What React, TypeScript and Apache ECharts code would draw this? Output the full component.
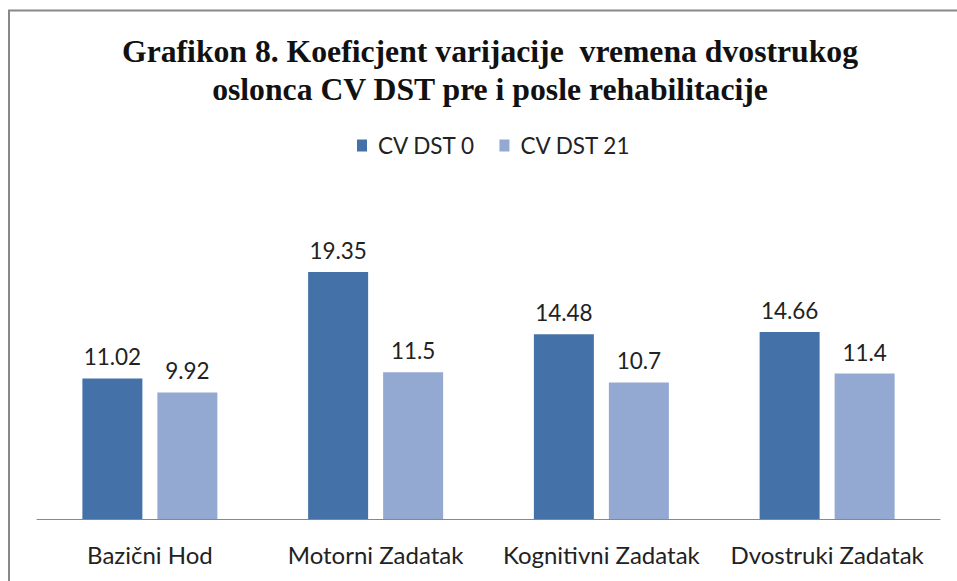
import React, { useEffect, useRef } from "react";
import * as echarts from "echarts";

const categories = ["Bazični Hod", "Motorni Zadatak", "Kognitivni Zadatak", "Dvostruki Zadatak"];
const seriesNames = ["CV DST 0", "CV DST 21"];
const cvDst0 = [11.02, 19.35, 14.48, 14.66];
const cvDst21 = [9.92, 11.5, 10.7, 11.4];
const titleText = "Grafikon 8. Koeficjent varijacije  vremena dvostrukog\noslonca CV DST pre i posle rehabilitacije";

export default function App() {
  const ref = useRef<HTMLDivElement>(null);
  useEffect(() => {
    if (!ref.current) return;
    const chart = echarts.init(ref.current, null, { renderer: "svg" });
    const labelStyle = {
      show: true,
      position: "top" as const,
      distance: 10,
      fontFamily: "Lato",
      fontSize: 22.5,
      color: "#222",
    };
    chart.setOption({
      animation: false,
      backgroundColor: "#fff",
      title: {
        text: titleText,
        left: 485,
        textAlign: "center",
        top: 27,
        textStyle: {
          fontFamily: "Liberation Serif",
          fontWeight: "bold",
          fontSize: 31.7,
          lineHeight: 38,
          color: "#111",
        },
      },
      legend: {
        top: 129,
        left: 352,
        itemWidth: 10,
        itemHeight: 12,
        itemGap: 24,
        icon: "rect",
        textStyle: { fontFamily: "Lato", fontSize: 22.5, color: "#222", padding: [0, 0, 0, 6] },
        data: seriesNames,
      },
      graphic: [
        {
          type: "rect",
          shape: { x: 9, y: 10.5, width: 1200, height: 1200 },
          style: { fill: "none", stroke: "#888", lineWidth: 2 },
          silent: true,
        },
      ],
      grid: { left: 37, right: 17, top: 200, bottom: 62 },
      xAxis: {
        type: "category",
        data: categories,
        axisLine: { lineStyle: { color: "#888", width: 1 } },
        axisTick: { show: false },
        axisLabel: {
          fontFamily: "Lato",
          fontSize: 24,
          color: "#222",
          margin: 23,
          interval: 0,
          hideOverlap: false,
        },
      },
      yAxis: {
        type: "value",
        min: 0,
        max: 25,
        show: false,
        splitLine: { show: false },
      },
      series: [
        {
          name: seriesNames[0],
          type: "bar",
          data: cvDst0,
          barWidth: 60,
          barGap: "25%",
          itemStyle: { color: "#4472A8" },
          label: labelStyle,
        },
        {
          name: seriesNames[1],
          type: "bar",
          data: cvDst21,
          barWidth: 60,
          itemStyle: { color: "#94A9D1" },
          label: labelStyle,
        },
      ],
    });
    return () => chart.dispose();
  }, []);
  return (
    <div
      ref={ref}
      style={{ position: "absolute", left: 0, top: 0, width: 957, height: 581 }}
    />
  );
}
